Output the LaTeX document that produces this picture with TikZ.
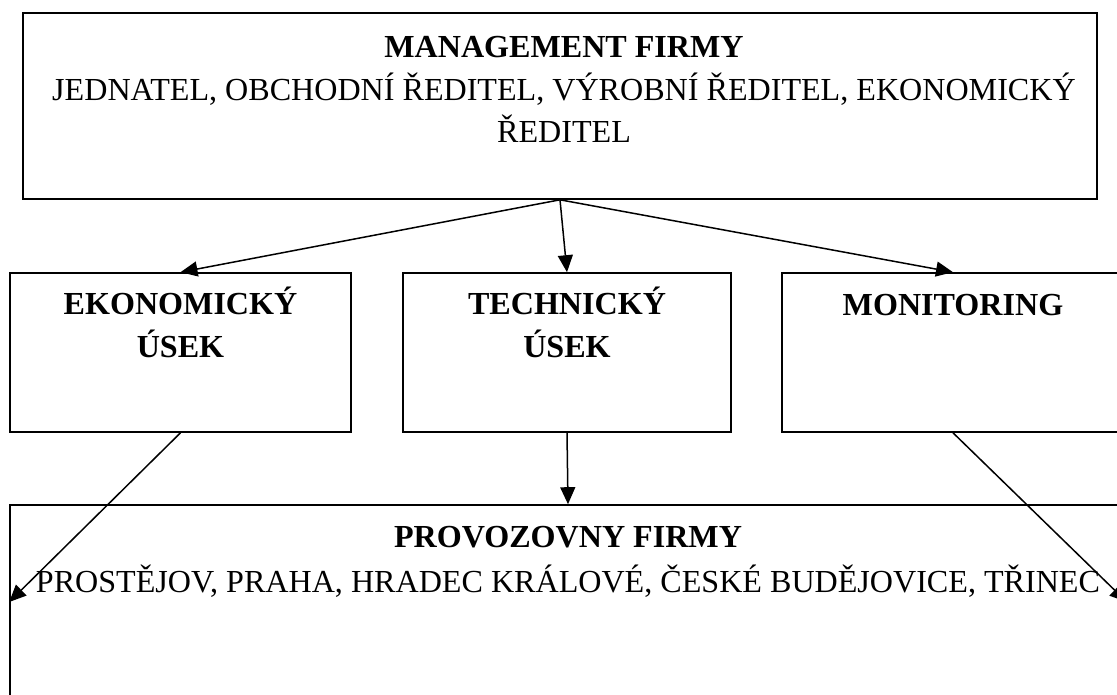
\documentclass[tikz,border=0pt]{standalone}
\usepackage{fontspec}
\setmainfont{Liberation Serif}
\usetikzlibrary{arrows.meta,positioning}

\begin{document}
\begin{tikzpicture}[x=1pt, y=-1pt, font=\fontsize{32.1}{42.5}\selectfont,
  box/.style={draw, line width=1.6pt, inner sep=0pt},
  boxtext/.style={align=center, inner sep=0pt},
  link/.style={-{Triangle[length=17pt,width=15pt]}, line width=1.5pt}]

% ---- page frame (boxes run off the right and bottom edge) ----
\path[use as bounding box, clip] (0,0) rectangle (1117,695);

% ---- management ----
\node[box, minimum width=1074pt, minimum height=186pt] (mgmt) at (560,106) {};
\node[boxtext, below=24pt of mgmt.north, xshift=4pt] (mgmttxt)
  {\textbf{MANAGEMENT FIRMY}\\JEDNATEL, OBCHODNÍ ŘEDITEL, VÝROBNÍ ŘEDITEL, EKONOMICKÝ\\ŘEDITEL};

% ---- departments ----
\node[box, minimum width=341pt, minimum height=159pt] (ekon) at (180.5,352.5) {};
\node[boxtext, below=15pt of ekon.north] (ekontxt) {\textbf{EKONOMICKÝ}\\\textbf{ÚSEK}};

\node[box, minimum width=328pt, minimum height=159pt] (tech) at (567,352.5) {};
\node[boxtext, below=15pt of tech.north] (techtxt) {\textbf{TECHNICKÝ}\\\textbf{ÚSEK}};

\node[box, minimum width=342pt, minimum height=159pt] (monit) at (953,352.5) {};
\node[boxtext, below=22pt of monit.north] (monittxt) {\textbf{MONITORING}};

% ---- branches ----
\node[box, minimum width=1116pt, minimum height=194pt] (prov) at (568,602) {};
\node[boxtext, below=22pt of prov.north] (provtxt)
  {\textbf{PROVOZOVNY FIRMY}\\[2pt]PROSTĚJOV, PRAHA, HRADEC KRÁLOVÉ, ČESKÉ BUDĚJOVICE, TŘINEC};

% ---- links ----
\draw[link] (mgmt.south) -- (ekon.north);
\draw[link] (mgmt.south) -- (tech.north);
\draw[link] (mgmt.south) -- (monit.north);
\draw[link] (ekon.south) -- (prov.west);
\draw[link] (tech.south) -- (prov.north);
\draw[link] (monit.south) -- (prov.east);

\end{tikzpicture}
\end{document}
